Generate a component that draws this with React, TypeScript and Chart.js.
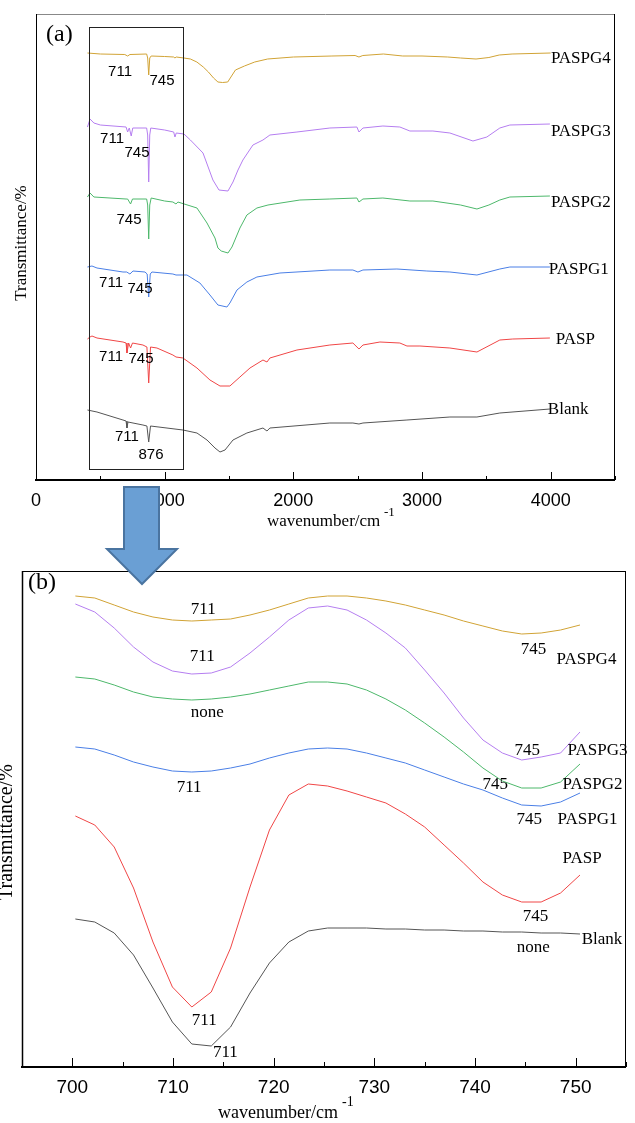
import React, { useEffect, useRef } from 'react';
import { Chart, registerables } from 'chart.js';

Chart.register(...registerables);

// ---------------- Panel (a): full FTIR spectra (offset, arbitrary transmittance units) ----------------
const A_BLANK_WN = [400, 474, 676, 700, 707, 715, 831, 862, 876, 890, 1142, 1251, 1329, 1391, 1430, 1469, 1531, 1639, 1764, 1795, 1818, 2284, 2463, 2510, 2541, 2883, 3217, 3427, 3605, 3994];
const A_BLANK_T = [70, 68, 60, 59, 52, 58, 55, 54, 38, 54, 50, 47, 40, 32, 28, 30, 40, 47, 52, 49, 52, 57, 57, 56, 57, 60, 63, 63, 67, 71];

const A_PASP_WN = [400, 420, 435, 474, 676, 700, 707, 720, 735, 750, 831, 862, 876, 890, 940, 1064, 1088, 1142, 1251, 1352, 1430, 1507, 1585, 1663, 1764, 1795, 1818, 2028, 2284, 2463, 2510, 2541, 2673, 2828, 2883, 2984, 3217, 3427, 3605, 3706, 3994];
const A_PASP_T = [141, 143, 144, 142, 138, 137, 127, 137, 132, 137, 135, 133, 97, 133, 132, 125, 123, 122, 112, 100, 94, 94, 103, 112, 120, 118, 122, 130, 135, 137, 131, 135, 138, 137, 134, 134, 132, 128, 140, 141, 142];

const A_G1_WN = [400, 435, 474, 676, 705, 730, 754, 847, 864, 876, 888, 901, 1064, 1088, 1173, 1274, 1352, 1414, 1484, 1507, 1562, 1639, 1717, 1896, 2284, 2463, 2502, 2541, 2805, 3038, 3217, 3427, 3605, 3683, 3994];
const A_G1_T = [213, 214, 212, 208, 208, 206, 209, 208, 206, 183, 206, 208, 206, 205, 205, 197, 185, 175, 173, 177, 190, 198, 203, 207, 210, 210, 208, 210, 211, 209, 208, 205, 211, 213, 213];

const A_G2_WN = [400, 420, 450, 700, 712, 735, 750, 860, 868, 876, 884, 895, 1000, 1064, 1088, 1103, 1251, 1329, 1391, 1414, 1440, 1492, 1523, 1546, 1585, 1639, 1717, 1803, 2051, 2284, 2494, 2510, 2541, 2696, 2906, 3085, 3300, 3427, 3520, 3605, 3683, 3994];
const A_G2_T = [283, 287, 283, 281, 281, 276, 281, 281, 275, 241, 275, 282, 279, 278, 276, 278, 272, 257, 242, 232, 229, 227, 233, 240, 252, 265, 272, 275, 280, 281, 282, 278, 281, 282, 279, 279, 275, 271, 275, 280, 283, 284];

const A_G3_WN = [400, 420, 450, 500, 700, 712, 725, 740, 752, 860, 868, 876, 884, 892, 1000, 1070, 1080, 1090, 1150, 1200, 1298, 1375, 1422, 1492, 1531, 1570, 1608, 1686, 1764, 1818, 2028, 2284, 2494, 2510, 2541, 2696, 2828, 2906, 3085, 3217, 3396, 3504, 3605, 3683, 3994];
const A_G3_T = [353, 361, 357, 355, 353, 348, 352, 344, 352, 352, 345, 298, 345, 352, 350, 348, 343, 347, 346, 340, 327, 300, 290, 289, 298, 310, 320, 335, 340, 345, 348, 352, 353, 348, 352, 354, 353, 349, 349, 347, 339, 343, 352, 355, 356];

const A_G4_WN = [400, 500, 690, 712, 730, 860, 868, 876, 884, 895, 1000, 1070, 1080, 1090, 1150, 1200, 1250, 1300, 1340, 1380, 1414, 1450, 1490, 1520, 1550, 1620, 1700, 1800, 2000, 2300, 2480, 2510, 2540, 2700, 2850, 3000, 3200, 3300, 3420, 3520, 3600, 3700, 4000];
const A_G4_T = [427, 426, 425.5, 424, 425.5, 426, 422, 405, 422, 424, 423.5, 423, 422, 423, 422, 421, 418, 413, 408, 402, 398, 397.5, 398, 404, 410, 414, 418, 421, 423, 424, 424.5, 423, 424.5, 426, 424, 424, 423, 422, 421, 422.5, 425, 426, 427];

const A_TICKS_MAJOR = [0, 1000, 2000, 3000, 4000];

// ---------------- Panel (b): zoom 700-750 cm-1 ----------------
const B_WN = [700.30, 702.23, 704.16, 706.08, 708.01, 709.94, 711.87, 713.80, 715.72, 717.65, 719.58, 721.51, 723.44, 725.36, 727.29, 729.22, 731.15, 733.08, 735.00, 736.93, 738.86, 740.79, 742.72, 744.64, 746.57, 748.50, 750.43];
const B_G4 = [471, 469, 462, 455, 450, 447, 446, 447, 448, 452, 457, 463, 469, 471, 471, 469, 466, 462, 457, 452, 446, 441, 436, 433, 434, 437, 442];
const B_G3 = [463, 455, 439, 420, 405, 396, 393, 394, 400, 414, 430, 447, 459, 461, 457, 447, 434, 419, 397, 374, 349, 327, 314, 307, 310, 314, 335];
const B_G2 = [390, 388, 382, 375, 370, 368, 367, 368, 370, 373, 377, 381, 385, 385, 383, 377, 368, 357, 344, 330, 315, 299, 286, 279, 279, 285, 303];
const B_G1 = [320, 318, 312, 305, 300, 296, 295, 296, 299, 303, 309, 314, 318, 319, 318, 314, 309, 304, 297, 290, 283, 277, 269, 262, 261, 265, 274];
const B_PASP = [251, 242, 220, 179, 125, 80, 60, 75, 119, 180, 237, 272, 283, 281, 276, 270, 264, 253, 240, 222, 204, 185, 172, 165, 165, 174, 192];
const B_BLANK = [148, 145, 134, 112, 79, 45, 23, 21, 40, 74, 104, 125, 136, 139, 139, 139, 138, 138, 137, 137, 136, 136, 135, 135, 134, 134, 133];

const B_TICKS_MAJOR = [700, 710, 720, 730, 740, 750];

const COLORS = {
  blank: '#555555',
  pasp: '#F04646',
  g1: '#4A7FE6',
  g2: '#4DB86B',
  g3: '#B57EF0',
  g4: '#D1A335',
};

const SERIF = '"Liberation Serif", "Times New Roman", serif';
const SANS = '"Liberation Sans", Arial, sans-serif';

type Note = { text: string; x: number; y: number; align: CanvasTextAlign; font: string };

const A_NOTES: Note[] = [
  { text: '711', x: 653, y: 408, align: 'center', font: `15px ${SANS}` },
  { text: '745', x: 979, y: 399, align: 'center', font: `15px ${SANS}` },
  { text: '711', x: 591, y: 341, align: 'center', font: `15px ${SANS}` },
  { text: '745', x: 785, y: 327, align: 'center', font: `15px ${SANS}` },
  { text: '745', x: 723, y: 260, align: 'center', font: `15px ${SANS}` },
  { text: '711', x: 583, y: 197, align: 'center', font: `15px ${SANS}` },
  { text: '745', x: 808, y: 191, align: 'center', font: `15px ${SANS}` },
  { text: '711', x: 583, y: 123, align: 'center', font: `15px ${SANS}` },
  { text: '745', x: 816, y: 121, align: 'center', font: `15px ${SANS}` },
  { text: '711', x: 707, y: 43, align: 'center', font: `15px ${SANS}` },
  { text: '876', x: 894, y: 25, align: 'center', font: `15px ${SANS}` },
  { text: 'PASPG4', x: 4002, y: 421, align: 'left', font: `17px ${SERIF}` },
  { text: 'PASPG3', x: 4002, y: 348, align: 'left', font: `17px ${SERIF}` },
  { text: 'PASPG2', x: 4002, y: 277, align: 'left', font: `17px ${SERIF}` },
  { text: 'PASPG1', x: 3986, y: 210, align: 'left', font: `17px ${SERIF}` },
  { text: 'PASP', x: 4040, y: 140, align: 'left', font: `17px ${SERIF}` },
  { text: 'Blank', x: 3978, y: 70, align: 'left', font: `17px ${SERIF}` },
  { text: '(a)', x: 78, y: 445, align: 'left', font: `24px ${SERIF}` },
];

const B_NOTES: Note[] = [
  { text: '711', x: 713.0, y: 457, align: 'center', font: `17px ${SERIF}` },
  { text: '711', x: 712.9, y: 410, align: 'center', font: `17px ${SERIF}` },
  { text: 'none', x: 713.4, y: 354, align: 'center', font: `17px ${SERIF}` },
  { text: '711', x: 711.6, y: 279, align: 'center', font: `17px ${SERIF}` },
  { text: '711', x: 713.1, y: 46, align: 'center', font: `17px ${SERIF}` },
  { text: '711', x: 715.2, y: 14, align: 'center', font: `17px ${SERIF}` },
  { text: '745', x: 745.8, y: 417, align: 'center', font: `17px ${SERIF}` },
  { text: 'PASPG4', x: 748.1, y: 407, align: 'left', font: `17px ${SERIF}` },
  { text: '745', x: 745.2, y: 316, align: 'center', font: `17px ${SERIF}` },
  { text: 'PASPG3', x: 749.2, y: 316, align: 'left', font: `17px ${SERIF}` },
  { text: '745', x: 742.0, y: 282, align: 'center', font: `17px ${SERIF}` },
  { text: 'PASPG2', x: 748.7, y: 282, align: 'left', font: `17px ${SERIF}` },
  { text: '745', x: 745.4, y: 247, align: 'center', font: `17px ${SERIF}` },
  { text: 'PASPG1', x: 748.2, y: 247, align: 'left', font: `17px ${SERIF}` },
  { text: 'PASP', x: 748.7, y: 208, align: 'left', font: `17px ${SERIF}` },
  { text: '745', x: 746.0, y: 150, align: 'center', font: `17px ${SERIF}` },
  { text: 'Blank', x: 750.6, y: 127, align: 'left', font: `17px ${SERIF}` },
  { text: 'none', x: 745.8, y: 119, align: 'center', font: `17px ${SERIF}` },
  { text: '(b)', x: 695.6, y: 484, align: 'left', font: `24px ${SERIF}` },
];

function pts(xs: number[], ys: number[]) {
  return xs.map((x, i) => ({ x, y: ys[i] }));
}

function ds(label: string, data: { x: number; y: number }[], color: string) {
  return { label, data, borderColor: color, backgroundColor: color, borderWidth: 1, pointRadius: 0, tension: 0, fill: false };
}

type Deco = {
  majors: number[];
  majorLen: number;
  minorLen: number;
  topColor: string;
  leftWidth: number;
  notes: Note[];
  rect?: { x1: number; x2: number; y1: number; y2: number };
  yTitle: { x: number; y: number; font: string; baseline: CanvasTextBaseline };
  xTitle: { x: number; y: number; font: string; supX: number; supY: number; supFont: string };
  arrow?: boolean;
};

function decoPlugin(d: Deco) {
  return {
    id: 'deco',
    afterDraw(chart: any) {
      const ctx: CanvasRenderingContext2D = chart.ctx;
      const { left, right, top, bottom } = chart.chartArea;
      const xs = chart.scales.x;
      const ys = chart.scales.y;
      ctx.save();
      // frame
      ctx.lineWidth = 1;
      ctx.strokeStyle = d.topColor;
      ctx.beginPath();
      ctx.moveTo(left, top + 0.5);
      ctx.lineTo(right, top + 0.5);
      ctx.stroke();
      ctx.strokeStyle = '#000';
      ctx.beginPath();
      ctx.moveTo(right - 0.5, top);
      ctx.lineTo(right - 0.5, bottom);
      ctx.stroke();
      ctx.lineWidth = d.leftWidth;
      ctx.beginPath();
      ctx.moveTo(left + 0.5, top);
      ctx.lineTo(left + 0.5, bottom);
      ctx.stroke();
      ctx.lineWidth = 2;
      ctx.beginPath();
      ctx.moveTo(left - 1, bottom);
      ctx.lineTo(right, bottom);
      ctx.stroke();
      // inward ticks
      ctx.lineWidth = 1;
      ctx.beginPath();
      xs.ticks.forEach((t: any) => {
        const px = Math.round(xs.getPixelForValue(t.value)) + 0.5;
        const len = d.majors.includes(t.value) ? d.majorLen : d.minorLen;
        ctx.moveTo(px, bottom);
        ctx.lineTo(px, bottom - len);
      });
      ctx.stroke();
      // zoom rectangle
      if (d.rect) {
        const x1 = Math.round(xs.getPixelForValue(d.rect.x1)) + 0.5;
        const x2 = Math.round(xs.getPixelForValue(d.rect.x2)) + 0.5;
        const y1 = Math.round(ys.getPixelForValue(d.rect.y1)) + 0.5;
        const y2 = Math.round(ys.getPixelForValue(d.rect.y2)) + 0.5;
        ctx.strokeStyle = '#222';
        ctx.strokeRect(x1, y2, x2 - x1, y1 - y2);
      }
      // annotations
      ctx.fillStyle = '#000';
      ctx.textBaseline = 'middle';
      d.notes.forEach((n) => {
        ctx.font = n.font;
        ctx.textAlign = n.align;
        ctx.fillText(n.text, xs.getPixelForValue(n.x), ys.getPixelForValue(n.y));
      });
      // y title
      ctx.save();
      ctx.translate(d.yTitle.x, d.yTitle.y);
      ctx.rotate(-Math.PI / 2);
      ctx.font = d.yTitle.font;
      ctx.textAlign = 'center';
      ctx.textBaseline = d.yTitle.baseline;
      ctx.fillText('Transmittance/%', 0, 0);
      ctx.restore();
      // x title
      ctx.textAlign = 'left';
      ctx.textBaseline = 'middle';
      ctx.font = d.xTitle.font;
      ctx.fillText('wavenumber/cm', d.xTitle.x, d.xTitle.y);
      ctx.font = d.xTitle.supFont;
      ctx.fillText('-1', d.xTitle.supX, d.xTitle.supY);
      // arrow
      if (d.arrow) {
        ctx.beginPath();
        ctx.moveTo(124, 7);
        ctx.lineTo(159, 7);
        ctx.lineTo(159, 69);
        ctx.lineTo(177, 69);
        ctx.lineTo(142, 104);
        ctx.lineTo(107, 69);
        ctx.lineTo(124, 69);
        ctx.closePath();
        ctx.fillStyle = '#6A9FD4';
        ctx.fill();
        ctx.lineWidth = 2;
        ctx.strokeStyle = '#4A74A0';
        ctx.stroke();
      }
      ctx.restore();
    },
  };
}

function buildA(): any {
  return {
    type: 'line',
    data: {
      datasets: [
        ds('Blank', pts(A_BLANK_WN, A_BLANK_T), COLORS.blank),
        ds('PASP', pts(A_PASP_WN, A_PASP_T), COLORS.pasp),
        ds('PASPG1', pts(A_G1_WN, A_G1_T), COLORS.g1),
        ds('PASPG2', pts(A_G2_WN, A_G2_T), COLORS.g2),
        ds('PASPG3', pts(A_G3_WN, A_G3_T), COLORS.g3),
        ds('PASPG4', pts(A_G4_WN, A_G4_T), COLORS.g4),
      ],
    },
    options: {
      responsive: false,
      animation: false,
      devicePixelRatio: 1,
      layout: { padding: { left: 36, right: 20, top: 14, bottom: 0 } },
      plugins: { legend: { display: false }, tooltip: { enabled: false } },
      scales: {
        x: {
          type: 'linear',
          min: 0,
          max: 4500,
          grid: { display: false, drawTicks: false },
          border: { display: false },
          ticks: {
            stepSize: 500,
            autoSkip: false,
            maxRotation: 0,
            padding: 10,
            color: '#000',
            font: { family: SANS, size: 18 },
            callback: (v: number) => (A_TICKS_MAJOR.includes(v) ? String(v) : ''),
          },
          afterFit: (s: any) => {
            s.height = 65;
          },
        },
        y: { type: 'linear', min: 0, max: 466, display: false },
      },
    },
    plugins: [
      decoPlugin({
        majors: A_TICKS_MAJOR,
        majorLen: 8,
        minorLen: 4,
        topColor: '#888',
        leftWidth: 1,
        notes: A_NOTES,
        rect: { x1: 412, x2: 1142, y1: 11, y2: 453 },
        yTitle: { x: 22, y: 243, font: `17px ${SERIF}`, baseline: 'middle' },
        xTitle: { x: 267, y: 522, font: `17px ${SERIF}`, supX: 384, supY: 513, supFont: `13px ${SERIF}` },
      }),
    ],
  };
}

function buildB(): any {
  return {
    type: 'line',
    data: {
      datasets: [
        ds('Blank', pts(B_WN, B_BLANK), COLORS.blank),
        ds('PASP', pts(B_WN, B_PASP), COLORS.pasp),
        ds('PASPG1', pts(B_WN, B_G1), COLORS.g1),
        ds('PASPG2', pts(B_WN, B_G2), COLORS.g2),
        ds('PASPG3', pts(B_WN, B_G3), COLORS.g3),
        ds('PASPG4', pts(B_WN, B_G4), COLORS.g4),
      ],
    },
    options: {
      responsive: false,
      animation: false,
      devicePixelRatio: 1,
      layout: { padding: { left: 22, right: 6, top: 91, bottom: 0 } },
      plugins: { legend: { display: false }, tooltip: { enabled: false } },
      scales: {
        x: {
          type: 'linear',
          min: 695,
          max: 755,
          grid: { display: false, drawTicks: false },
          border: { display: false },
          ticks: {
            stepSize: 5,
            autoSkip: false,
            maxRotation: 0,
            padding: 9,
            color: '#000',
            font: { family: SANS, size: 19 },
            callback: (v: number) => (B_TICKS_MAJOR.includes(v) ? String(v) : ''),
          },
          afterFit: (s: any) => {
            s.height = 56;
          },
        },
        y: { type: 'linear', min: 0, max: 496, display: false },
      },
    },
    plugins: [
      decoPlugin({
        majors: B_TICKS_MAJOR,
        majorLen: 9,
        minorLen: 5,
        topColor: '#000',
        leftWidth: 1.5,
        notes: B_NOTES,
        yTitle: { x: 12, y: 352, font: `20px ${SERIF}`, baseline: 'alphabetic' },
        xTitle: { x: 218, y: 633, font: `18px ${SERIF}`, supX: 342, supY: 622, supFont: `14px ${SERIF}` },
        arrow: true,
      }),
    ],
  };
}

function ChartCanvas({ top, height, build }: { top: number; height: number; build: () => any }) {
  const ref = useRef<HTMLCanvasElement>(null);
  useEffect(() => {
    const chart = new Chart(ref.current as HTMLCanvasElement, build());
    return () => chart.destroy();
  }, []);
  return (
    <canvas
      ref={ref}
      width={635}
      height={height}
      style={{ position: 'absolute', left: 0, top, width: 635, height }}
    />
  );
}

export default function App() {
  return (
    <div style={{ position: 'absolute', left: 0, top: 0, width: 635, height: 1123, background: '#fff' }}>
      <ChartCanvas top={0} height={545} build={buildA} />
      <ChartCanvas top={480} height={643} build={buildB} />
    </div>
  );
}
